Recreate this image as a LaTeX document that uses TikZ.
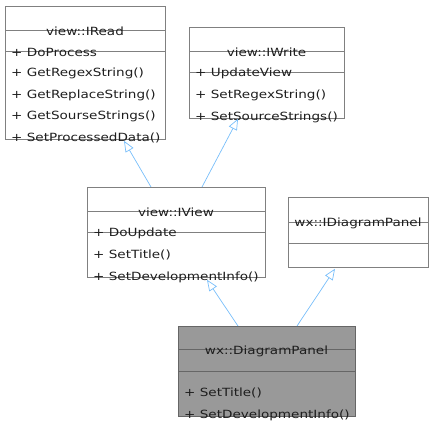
\documentclass[tikz,border=0pt]{standalone}
\usepackage{fontspec}
\setmainfont{DejaVu Sans}[FakeStretch=1.2]
\usetikzlibrary{arrows.meta,calc}
\definecolor{boxline}{RGB}{128,128,128}
\definecolor{darkline}{RGB}{102,102,102}
\definecolor{arrowblue}{RGB}{120,190,250}
\definecolor{panelfill}{RGB}{153,153,153}
\definecolor{txt}{RGB}{30,30,30}
\tikzset{
  cls/.style={draw=boxline, line width=0.8pt, rectangle, inner sep=0pt, anchor=north west},
  sep/.style={draw=boxline, line width=0.8pt},
  title/.style={font=\fontsize{11.3}{13}\selectfont, text=txt, inner sep=0pt, anchor=center},
  member/.style={font=\fontsize{11.3}{13}\selectfont, text=txt, inner sep=0pt, anchor=west},
  inherit/.style={draw=arrowblue, line width=0.7pt, -{Triangle[open, length=11pt, width=9pt]}},
}
\begin{document}
\begin{tikzpicture}[x=1pt,y=-1pt]
\useasboundingbox (0,0) rectangle (434,421);
% view::IRead
\node[cls, minimum width=160pt, minimum height=133pt] (iread) at (5,6) {};
\draw[sep] (5,30) -- (165,30);
\draw[sep] (5,51.5) -- (165,51.5);
\node[title] (ireadT) at (85,31) {view::IRead};
\node[member] (ireadM1) at (11,52) {+ DoProcess};
\node[member] (ireadM2) at (11,73.5) {+ GetRegexString()};
\node[member] (ireadM3) at (11,95) {+ GetReplaceString()};
\node[member] (ireadM4) at (11,116.5) {+ GetSourseStrings()};
\node[member] (ireadM5) at (11,138) {+ SetProcessedData()};
% view::IWrite
\node[cls, minimum width=155pt, minimum height=91pt] (iwrite) at (189,27) {};
\draw[sep] (189,51.5) -- (344,51.5);
\draw[sep] (189,72.5) -- (344,72.5);
\node[title] (iwriteT) at (266.5,52) {view::IWrite};
\node[member] (iwriteM1) at (195,73) {+ UpdateView};
\node[member] (iwriteM2) at (195,95.5) {+ SetRegexString()};
\node[member] (iwriteM3) at (195,117) {+ SetSourceStrings()};
% view::IView
\node[cls, minimum width=178pt, minimum height=90pt] (iview) at (87,187) {};
\draw[sep] (87,211.5) -- (265,211.5);
\draw[sep] (87,232.5) -- (265,232.5);
\node[title] (iviewT) at (176,212) {view::IView};
\node[member] (iviewM1) at (93,233) {+ DoUpdate};
\node[member] (iviewM2) at (93,255) {+ SetTitle()};
\node[member] (iviewM3) at (93,277) {+ SetDevelopmentInfo()};
% wx::IDiagramPanel
\node[cls, minimum width=140pt, minimum height=70pt] (idp) at (288,197) {};
\draw[sep] (288,222) -- (428,222);
\draw[sep] (288,243) -- (428,243);
\node[title] (idpT) at (358,223) {wx::IDiagramPanel};
% wx::DiagramPanel
\node[cls, draw=darkline, fill=panelfill, minimum width=177pt, minimum height=90pt] (dp) at (178,326) {};
\draw[sep, draw=darkline] (178,349.5) -- (355,349.5);
\draw[sep, draw=darkline] (178,371) -- (355,371);
\node[title] (dpT) at (266.5,351) {wx::DiagramPanel};
\node[member] (dpM1) at (184,393) {+ SetTitle()};
\node[member] (dpM2) at (184,415) {+ SetDevelopmentInfo()};
% connector end points on the boxes
\coordinate (ivA) at ($(iview.north west)+(64,0)$);
\coordinate (irB) at ($(iread.south west)+(119,1)$);
\coordinate (ivC) at ($(iview.north west)+(115,0)$);
\coordinate (iwD) at ($(iwrite.south west)+(49,0)$);
\coordinate (dpE) at ($(dp.north west)+(60,0)$);
\coordinate (ivF) at ($(iview.south west)+(120,2)$);
\coordinate (dpG) at ($(dp.north west)+(119,0)$);
\coordinate (idpH) at ($(idp.south west)+(47,1)$);
\draw[inherit] (ivA) -- (irB);
\draw[inherit] (ivC) -- (iwD);
\draw[inherit] (dpE) -- (ivF);
\draw[inherit] (dpG) -- (idpH);
\end{tikzpicture}
\end{document}
